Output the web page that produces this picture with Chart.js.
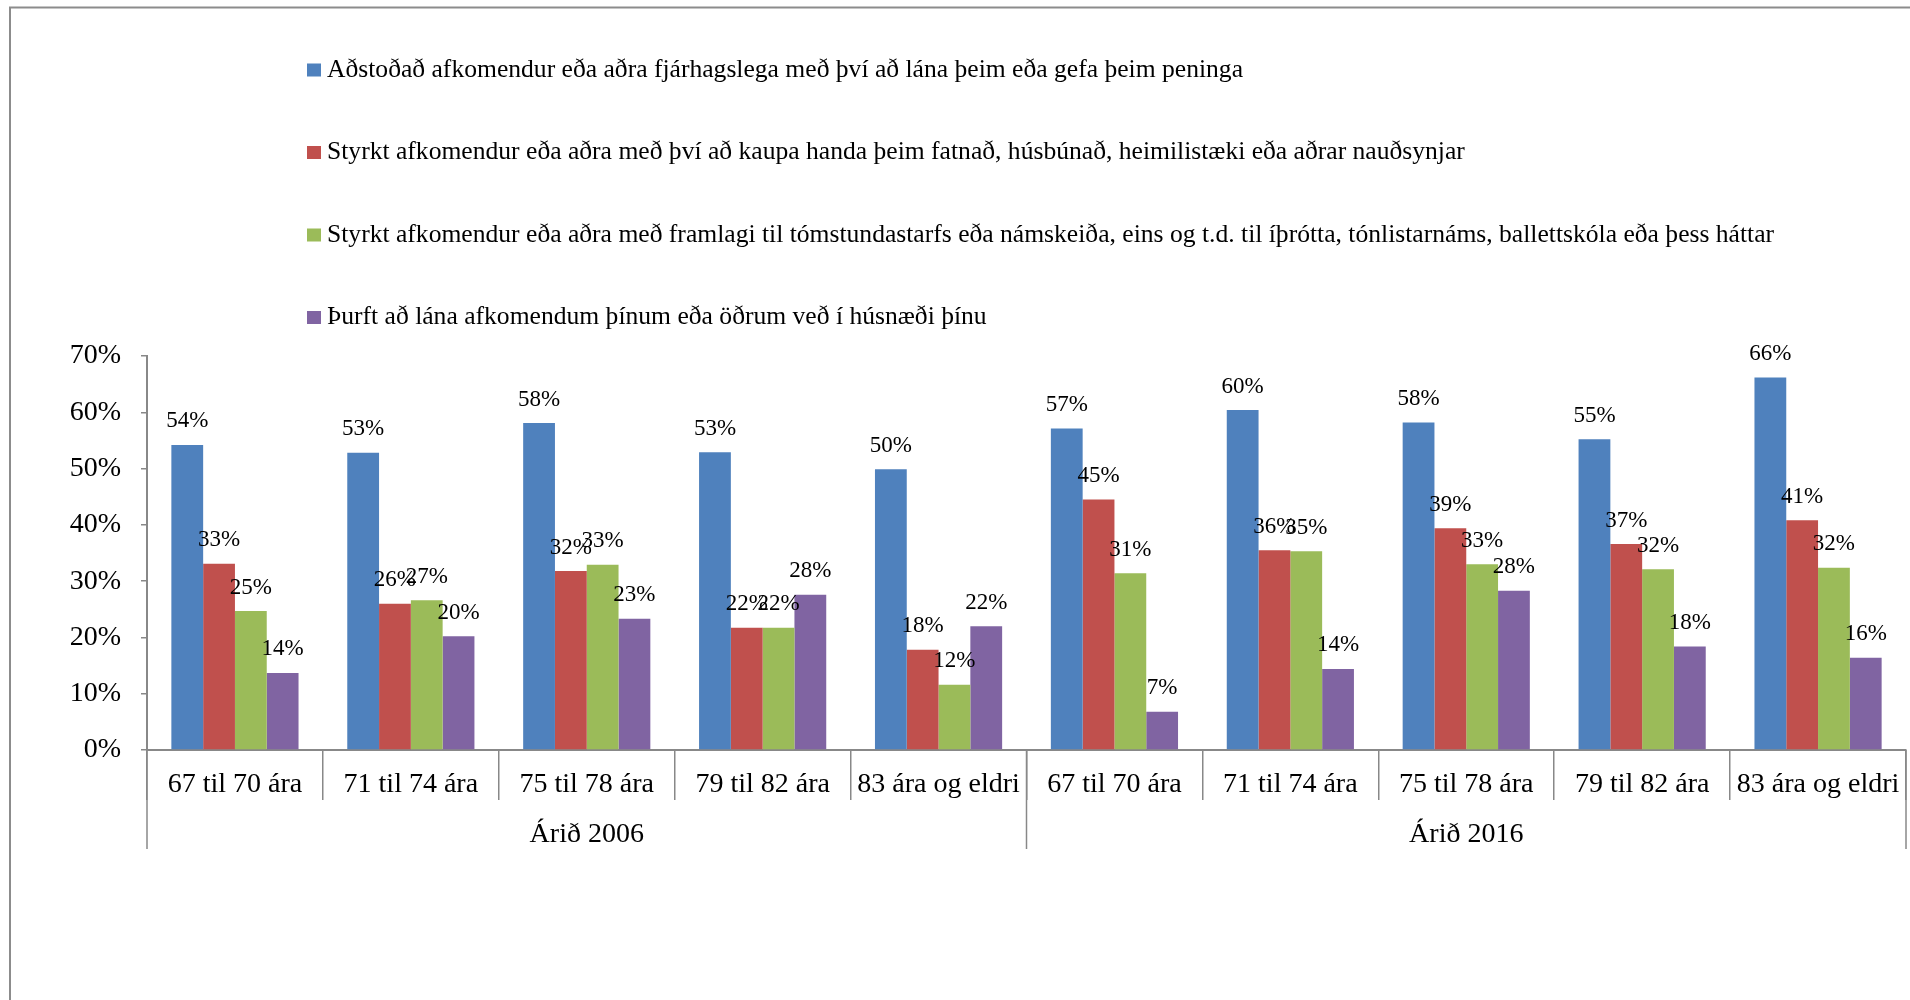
<!DOCTYPE html>
<html>
<head>
<meta charset="utf-8">
<title>Aðstoð við afkomendur 2006 og 2016</title>
<script src="https://cdn.jsdelivr.net/npm/chart.js@4.4.1/dist/chart.umd.min.js"></script>
<style>
  html, body { margin: 0; padding: 0; background: #fff; }
  #wrap { width: 1910px; height: 1000px; }
</style>
</head>
<body>
<div id="wrap"><canvas id="myChart" width="1910" height="1000"></canvas></div>
<script>
const ageGroups = ['67 til 70 ára', '71 til 74 ára', '75 til 78 ára', '79 til 82 ára', '83 ára og eldri'];
const years = ['Árið 2006', 'Árið 2016'];
const categories = [...ageGroups, ...ageGroups];

const seriesNames = [
  'Aðstoðað afkomendur eða aðra fjárhagslega með því að lána þeim eða gefa þeim peninga',
  'Styrkt afkomendur eða aðra með því að kaupa handa þeim fatnað, húsbúnað, heimilistæki eða aðrar nauðsynjar',
  'Styrkt afkomendur eða aðra með framlagi til tómstundastarfs eða námskeiða, eins og t.d. til íþrótta, tónlistarnáms, ballettskóla eða þess háttar',
  'Þurft að lána afkomendum þínum eða öðrum veð í húsnæði þínu'
];
const seriesColors = ['#4F81BD', '#C0504D', '#9BBB59', '#8064A2'];

// % per category, 2006 first then 2016
const fjarhagur   = [54.2, 52.8, 58.1, 52.9, 49.9, 57.1, 60.4, 58.2, 55.2, 66.2];
const naudsynjar  = [33.1, 26.0, 31.8, 21.7, 17.8, 44.5, 35.5, 39.4, 36.6, 40.8];
const tomstundir  = [24.7, 26.6, 32.9, 21.7, 11.6, 31.4, 35.3, 33.0, 32.1, 32.4];
const vedHusnaedi = [13.7, 20.2, 23.3, 27.6, 22.0,  6.8, 14.4, 28.3, 18.4, 16.4];

const yTicks = [0, 10, 20, 30, 40, 50, 60, 70];

const FONT = "'Liberation Serif', 'DejaVu Serif', serif";
const GRAY = '#888888';

Chart.defaults.font.family = FONT;
Chart.defaults.color = '#000';

// outer frame of the figure
const framePlugin = {
  id: 'frame',
  beforeDraw: (chart) => {
    const ctx = chart.ctx;
    ctx.save();
    ctx.strokeStyle = '#8c8c8c';
    ctx.lineWidth = 2;
    ctx.strokeRect(10, 7.5, 1960, 1060);
    ctx.restore();
  }
};

// legend with one series per row
const legendRows = {
  id: 'legendRows',
  afterDraw: (chart) => {
    const ctx = chart.ctx;
    ctx.save();
    ctx.font = `25.6px ${FONT}`;
    ctx.textBaseline = 'middle';
    ctx.textAlign = 'left';
    seriesNames.forEach((name, i) => {
      const y = 70 + i * 82.5;
      ctx.fillStyle = seriesColors[i];
      ctx.fillRect(307, y - 6.5, 14, 13);
      ctx.fillStyle = '#000';
      ctx.fillText(name, 327, y);
    });
    ctx.restore();
  }
};

// value above each bar
const barLabels = {
  id: 'barLabels',
  afterDatasetsDraw: (chart) => {
    const ctx = chart.ctx;
    ctx.save();
    ctx.font = `23px ${FONT}`;
    ctx.fillStyle = '#000';
    ctx.textAlign = 'center';
    ctx.textBaseline = 'middle';
    chart.data.datasets.forEach((ds, i) => {
      chart.getDatasetMeta(i).data.forEach((bar, j) => {
        ctx.fillText(Math.round(ds.data[j]) + '%', bar.x, bar.y - 23.5);
      });
    });
    ctx.restore();
  }
};

// second level of the x axis: year groups
const yearGroups = {
  id: 'yearGroups',
  afterDraw: (chart) => {
    const ctx = chart.ctx;
    const x = chart.scales.x;
    const per = ageGroups.length;
    const mid = (x.getPixelForTick(per - 1) + x.getPixelForTick(per)) / 2;
    const bounds = [x.left, mid, x.right];
    ctx.save();
    ctx.strokeStyle = GRAY;
    ctx.lineWidth = 1.5;
    bounds.forEach(b => {
      ctx.beginPath();
      ctx.moveTo(b, x.top);
      ctx.lineTo(b, x.top + 99);
      ctx.stroke();
    });
    ctx.font = `28px ${FONT}`;
    ctx.fillStyle = '#000';
    ctx.textAlign = 'center';
    ctx.textBaseline = 'middle';
    years.forEach((yr, i) => {
      ctx.fillText(yr, (bounds[i] + bounds[i + 1]) / 2, x.top + 85);
    });
    ctx.restore();
  }
};

const series = [fjarhagur, naudsynjar, tomstundir, vedHusnaedi];

const chart = new Chart(document.getElementById('myChart').getContext('2d'), {
  type: 'bar',
  data: {
    labels: categories,
    datasets: series.map((data, i) => ({
      label: seriesNames[i],
      data: data,
      backgroundColor: seriesColors[i],
      borderWidth: 0,
      categoryPercentage: 0.723,
      barPercentage: 1
    }))
  },
  options: {
    responsive: false,
    animation: false,
    layout: { padding: { top: 356, right: 4, left: 0, bottom: 0 } },
    plugins: {
      legend: { display: false },
      tooltip: { enabled: false }
    },
    scales: {
      x: {
        offset: true,
        grid: { display: true, drawOnChartArea: false, drawTicks: true, tickLength: 50, offset: true, color: GRAY, lineWidth: 1.5 },
        border: { color: GRAY, width: 2 },
        ticks: { color: '#000', font: { size: 28 }, padding: -32, maxRotation: 0, autoSkip: false },
        afterFit: (s) => { s.height = 250; }
      },
      y: {
        min: yTicks[0],
        max: yTicks[yTicks.length - 1],
        afterBuildTicks: (s) => { s.ticks = yTicks.map(v => ({ value: v })); },
        grid: { drawOnChartArea: false, drawTicks: true, tickLength: 6, color: GRAY, lineWidth: 1.5 },
        border: { color: GRAY, width: 2 },
        ticks: { color: '#000', font: { size: 28 }, padding: 20, callback: v => v + '%' },
        afterFit: (s) => { s.width = 147; }
      }
    }
  },
  plugins: [framePlugin, legendRows, barLabels, yearGroups]
});
</script>
</body>
</html>
